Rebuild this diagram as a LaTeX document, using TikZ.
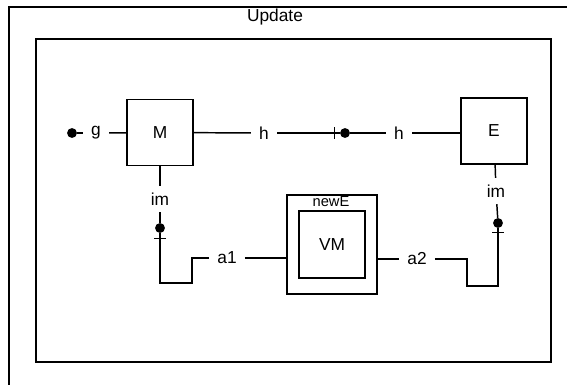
\documentclass[tikz,border=0pt]{standalone}
\usepackage{fontspec}
\setmainfont{Liberation Sans}
\usetikzlibrary{arrows.meta}

\begin{document}
\begin{tikzpicture}[x=0.75pt,y=-0.75pt,
 blk/.style={draw,line width=1.1pt,minimum width=49.5pt,minimum height=49.5pt,font=\fontsize{13}{15}\selectfont},
 lbl/.style={inner xsep=6pt,inner ysep=5pt,font=\fontsize{13}{15}\selectfont},
 dotp/.style={circle,fill,inner sep=0pt,minimum size=7.4pt},
 wire/.style={line width=1.1pt},
 tee/.style={wire,-{Bar[width=8.5pt,line width=1.1pt]}}]
 \clip (0,0) rectangle (567,385);
 \draw[wire] (9,7) rectangle (600,420);
 \draw[wire] (36,39) rectangle (551,362);
 \node[font=\fontsize{13}{15}\selectfont] (title) at (275,17) {Update};
 % boxes
 \node[blk] (M) at (160,132.5) {M};
 \node[blk] (E) at (494,131) {E};
 \node[draw,line width=1.1pt,minimum width=67.5pt,minimum height=74.25pt] (newE) at (332,244.5) {};
 \node[blk,minimum height=50.25pt] (VM) at (332,244.5) {VM};
 \node[font=\fontsize{11}{13}\selectfont,inner sep=0pt] (newElbl) at (331,202) {newE};
 % ports and labels
 \node[dotp] (dg) at (72,133) {}; \node[lbl] (g) at (96,133) {g};
 \node[lbl] (h1) at (264,133) {h}; \coordinate (b1) at (335,133);
 \node[dotp] (d1) at (345,133) {}; \node[lbl] (h2) at (399,133) {h};
 \node[lbl] (im1) at (160,199) {im}; \node[dotp] (d2) at (160,228) {};
 \coordinate (b2) at (160,238); \coordinate (k1) at (192,283);
 \node[lbl] (a1) at (227,258) {a1}; \node[lbl] (a2) at (417,259) {a2};
 \node[lbl] (im2) at (496,191) {im}; \node[dotp] (d3) at (498,223) {};
 \coordinate (b3) at (498,232); \coordinate (k2) at (467,286);
 % wires
 \draw[wire] (dg)--(g); \draw[wire] (g)--(M);
 \draw[wire] (M)--(h1); \draw[tee] (h1)--(b1); \draw[wire] (b1)--(d1);
 \draw[wire] (d1)--(h2); \draw[wire] (h2)--(h2 -| E.west);
 \draw[wire] (M)--(im1); \draw[wire] (im1)--(d2); \draw[wire] (d2)--(b2);
 \draw[tee] (a1) -| (k1) -| (b2);
 \draw[wire] (a1)--(a1 -| newE.west);
 \draw[wire] (newE.east |- a2)--(a2);
 \draw[wire] (E)--(im2); \draw[wire] (im2)--(d3); \draw[wire] (d3)--(b3);
 \draw[tee] (a2) -| (k2) -| (b3);
\end{tikzpicture}
\end{document}
